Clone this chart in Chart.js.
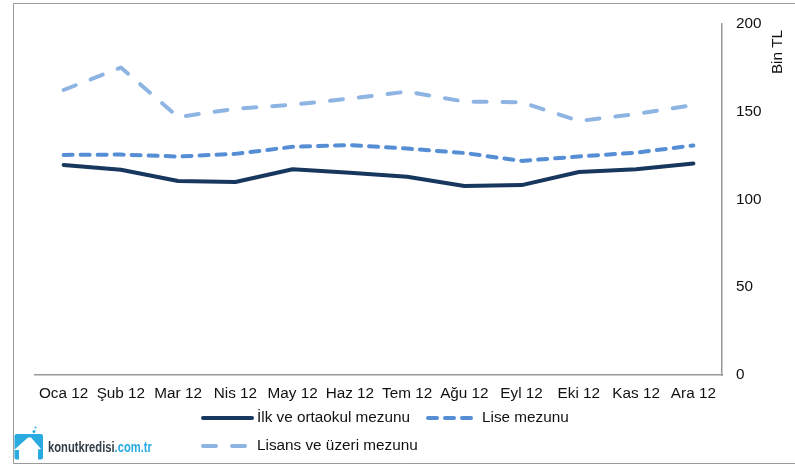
<!DOCTYPE html>
<html><head><meta charset="utf-8">
<style>html,body{margin:0;padding:0;background:#fff}#w{position:relative;width:795px;height:464px}</style>
<script src="https://cdn.jsdelivr.net/npm/chart.js@4"></script>
</head><body><div id="w"><canvas id="c" width="795" height="464"></canvas></div>
<script>
const categories=['Oca 12','Şub 12','Mar 12','Nis 12','May 12','Haz 12','Tem 12','Ağu 12','Eyl 12','Eki 12','Kas 12','Ara 12'];
const ilkOrta=[119.7,117,110.5,110,117.2,115.2,113,107.7,108.2,115.7,117.3,120.5];
const lise=[125.4,125.6,124.5,126,130,131,129,126.5,122,124.5,126.7,130.8];
const lisans=[162.4,175.2,147,151.7,154,157.5,161.5,155.8,155.4,144.7,148.7,153.8];
const yTicks=[0,50,100,150,200];
const FONT='"Liberation Sans", Arial, sans-serif';
const FS=15.3;
const LW=4;
const C1='#17375e',C2='#558ed5',C3='#8eb4e3',AX='#9a9a9a',TXT='#111';
const LOGO='#29abe2';
const dash2=[9,8],dash3=[13,16];
const deco={id:'deco',
 beforeDraw(ch){const x=ch.ctx;x.save();x.strokeStyle=AX;x.lineWidth=1;x.beginPath();x.moveTo(795,3.5);x.lineTo(13.5,3.5);x.lineTo(13.5,463.5);x.lineTo(795,463.5);x.stroke();x.restore();},
 afterDraw(ch){const x=ch.ctx;x.save();
  x.font=FS+'px '+FONT;x.fillStyle=TXT;x.textBaseline='middle';x.textAlign='left';
  const items=[[0,203,252,257,418],[1,428,471,482,418],[2,203,246,257,446]];
  items.forEach(([i,a,b,t,y])=>{const d=ch.data.datasets[i];x.save();x.strokeStyle=d.borderColor;x.lineWidth=LW;x.lineCap='round';x.setLineDash(d.borderDash||[]);x.beginPath();x.moveTo(a,y);x.lineTo(b,y);x.stroke();x.restore();x.fillText(d.label,t,y);});
  x.save();x.translate(778,52);x.rotate(-Math.PI/2);x.textAlign='center';x.fillText('Bin TL',0,0);x.restore();
  x.fillStyle=LOGO;x.beginPath();x.roundRect(14.5,434,28.5,25.5,2);x.fill();
  x.fillStyle='#fff';x.beginPath();x.moveTo(14,450);x.lineTo(28,437.5);x.lineTo(31,437.5);x.lineTo(41,449);x.lineTo(38,449.5);x.lineTo(38,460);x.lineTo(19,460);x.lineTo(19,450);x.closePath();x.fill();
  x.fillStyle=LOGO;x.beginPath();x.arc(34,431.5,1.5,0,7);x.fill();x.beginPath();x.arc(35.5,427.5,1,0,7);x.fill();
  x.save();x.translate(48,448);x.scale(0.8,1);x.font='bold 14px '+FONT;x.textAlign='left';x.fillStyle='#333f48';const s='konutkredisi';x.fillText(s,0,0);const w=x.measureText(s).width;x.fillStyle=LOGO;x.fillText('.com.tr',w,0);x.restore();
  x.restore();}};
new Chart(document.getElementById('c'),{type:'line',plugins:[deco],
 data:{labels:categories,datasets:[
  {label:'İlk ve ortaokul mezunu',data:ilkOrta,borderColor:C1,borderWidth:LW,pointRadius:0,tension:0,borderCapStyle:'round',borderJoinStyle:'round'},
  {label:'Lise mezunu',data:lise,borderColor:C2,borderWidth:LW,borderDash:dash2,pointRadius:0,tension:0,borderCapStyle:'round',borderJoinStyle:'round'},
  {label:'Lisans ve üzeri mezunu',data:lisans,borderColor:C3,borderWidth:LW,borderDash:dash3,pointRadius:0,tension:0,borderCapStyle:'round',borderJoinStyle:'round'}]},
 options:{responsive:false,animation:false,
  layout:{padding:{left:35,top:24,right:0,bottom:0}},
  plugins:{legend:{display:false},tooltip:{enabled:false},title:{display:false}},
  scales:{
   x:{offset:true,afterFit(s){s.height=89;},grid:{display:false,drawTicks:false},border:{color:AX,width:1.5},ticks:{color:TXT,font:{family:FONT,size:FS},padding:10,maxRotation:0,autoSkip:false}},
   y:{position:'right',min:0,max:200,afterFit(s){s.width=73;},afterBuildTicks(a){a.ticks=yTicks.map(v=>({value:v}));},grid:{display:false,drawTicks:false},border:{color:AX,width:1.5},ticks:{color:TXT,font:{family:FONT,size:FS},padding:14}}
  }},
 });
</script></body></html>
